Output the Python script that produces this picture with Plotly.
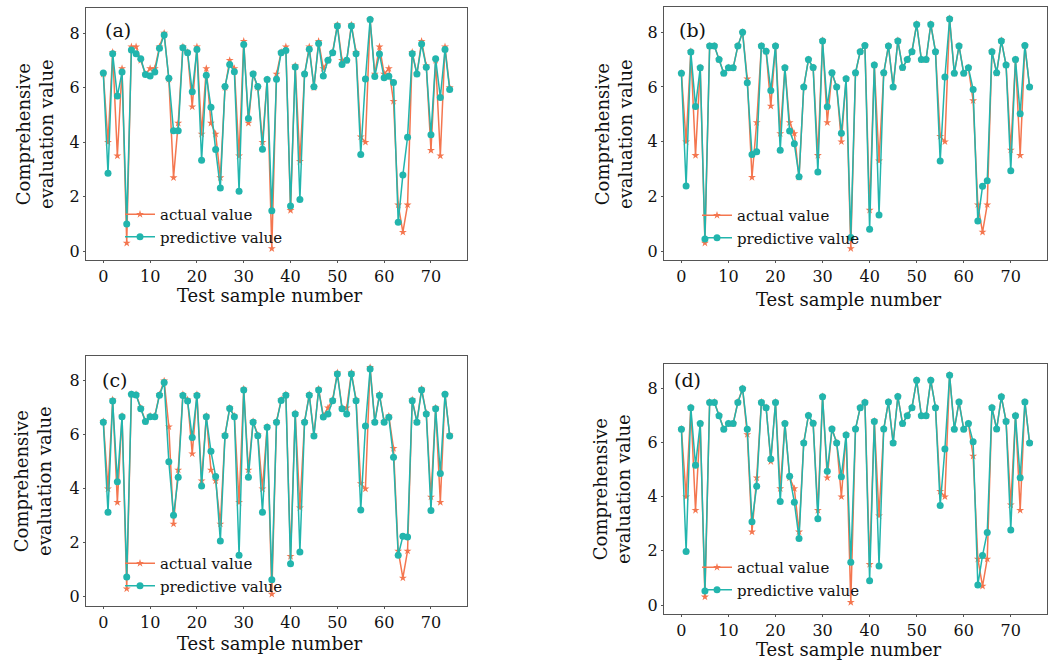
import plotly.graph_objects as go

sample = list(range(75))

actual = [6.5, 4.0, 7.3, 3.5, 6.7, 0.3, 7.5, 7.5, 7.0, 6.5,
          6.7, 6.7, 7.5, 8.0, 6.3, 2.7, 4.7, 7.5, 7.3, 5.3,
          7.5, 4.3, 6.7, 4.7, 4.3, 2.7, 6.0, 7.0, 6.7, 3.5,
          7.7, 4.7, 6.5, 6.0, 4.0, 6.3, 0.1, 6.5, 7.3, 7.5,
          1.5, 6.8, 3.3, 6.5, 7.5, 6.0, 7.7, 6.7, 7.0, 7.3,
          8.3, 7.0, 7.0, 8.3, 7.3, 4.2, 4.0, 8.5, 6.5, 7.5,
          6.5, 6.7, 5.5, 1.7, 0.7, 1.7, 7.3, 6.5, 7.7, 6.8,
          3.7, 7.0, 3.5, 7.5, 6.0]

pred_a = [6.54, 2.86, 7.24, 5.69, 6.57, 1.0, 7.38, 7.24, 7.06, 6.48,
          6.43, 6.57, 7.44, 7.93, 6.34, 4.42, 4.42, 7.46, 7.28, 5.85,
          7.4, 3.34, 6.45, 5.28, 3.73, 2.32, 6.04, 6.85, 6.58, 2.2,
          7.58, 4.87, 6.5, 6.04, 3.74, 6.3, 1.49, 6.31, 7.28, 7.36,
          1.66, 6.76, 1.9, 6.5, 7.41, 6.03, 7.62, 6.43, 7.0, 7.28,
          8.26, 6.85, 7.0, 8.26, 7.24, 3.55, 6.32, 8.5, 6.41, 7.23,
          6.36, 6.42, 6.19, 1.06, 2.8, 4.18, 7.24, 6.5, 7.6, 6.75,
          4.27, 7.06, 5.64, 7.4, 5.93]

pred_b = [6.5, 2.38, 7.28, 5.29, 6.7, 0.45, 7.5, 7.5, 7.0, 6.5,
          6.7, 6.7, 7.5, 8.0, 6.15, 3.53, 3.63, 7.5, 7.3, 5.87,
          7.5, 3.69, 6.7, 4.39, 3.93, 2.72, 6.0, 7.0, 6.71, 2.89,
          7.68, 5.28, 6.52, 6.0, 4.31, 6.3, 0.5, 6.52, 7.29, 7.51,
          0.8, 6.8, 1.32, 6.52, 7.5, 6.0, 7.68, 6.71, 7.0, 7.29,
          8.28, 7.0, 7.0, 8.28, 7.29, 3.3, 6.36, 8.48, 6.5, 7.5,
          6.5, 6.7, 5.91, 1.1, 2.37, 2.57, 7.29, 6.52, 7.68, 6.8,
          2.94, 7.0, 5.02, 7.51, 6.0]

pred_c = [6.47, 3.13, 7.25, 4.26, 6.67, 0.74, 7.5, 7.48, 6.97, 6.49,
          6.67, 6.67, 7.47, 7.94, 5.0, 3.02, 4.43, 7.46, 7.25, 5.9,
          7.46, 4.11, 6.67, 5.39, 4.46, 2.07, 5.97, 6.98, 6.67, 1.54,
          7.66, 4.43, 6.47, 5.97, 3.13, 6.28, 0.63, 6.47, 7.27, 7.47,
          1.23, 6.77, 1.66, 6.47, 7.47, 5.96, 7.66, 6.66, 6.77, 7.26,
          8.25, 6.97, 6.77, 8.25, 7.26, 3.22, 6.33, 8.44, 6.47, 7.46,
          6.47, 6.65, 5.17, 1.54, 2.24, 2.22, 7.26, 6.47, 7.66, 6.77,
          3.2, 6.97, 4.57, 7.5, 5.96]

pred_d = [6.49, 1.98, 7.29, 5.16, 6.7, 0.52, 7.48, 7.48, 6.99, 6.49,
          6.7, 6.7, 7.48, 7.99, 6.49, 3.08, 4.39, 7.48, 7.29, 5.39,
          7.48, 3.82, 6.7, 4.76, 3.8, 2.46, 5.98, 7.0, 6.71, 3.19,
          7.69, 4.94, 6.5, 5.98, 4.74, 6.28, 1.58, 6.5, 7.29, 7.48,
          0.9, 6.78, 1.44, 6.5, 7.5, 5.98, 7.7, 6.7, 6.99, 7.29,
          8.3, 6.99, 6.99, 8.3, 7.29, 3.68, 5.76, 8.49, 6.49, 7.5,
          6.49, 6.7, 6.03, 0.74, 1.83, 2.68, 7.29, 6.5, 7.69, 6.78,
          2.77, 6.99, 4.7, 7.5, 5.98]

panel_labels = ["(a)", "(b)", "(c)", "(d)"]
preds = [pred_a, pred_b, pred_c, pred_d]
x_tick_vals = [0, 10, 20, 30, 40, 50, 60, 70]
y_tick_vals = [0, 2, 4, 6, 8]

W, H = 1049, 661
FONT = "DejaVu Serif"
C_ACT = "#F4764F"
C_PRED = "#22B5AD"

# pixel boxes (left, right, top, bottom)
boxes = [(86, 467, 8, 260), (664, 1047, 7, 260),
         (86, 467, 356, 605.5), (664, 1047, 363.5, 613.7)]
legend_pos = [(120, 198), (697, 199), (120, 547), (697, 551)]
label_pos = [(103, 30), (677, 30), (100, 380), (672, 380)]
xtitle_pos = [(270, 296), (849, 299), (270, 643), (849, 649)]
ytitle_pos = [(35, 134), (614, 134), (33, 481), (612, 489)]

fig = go.Figure()
layout = dict(width=W, height=H, margin=dict(l=0, r=0, t=0, b=0, autoexpand=False),
              plot_bgcolor="white", paper_bgcolor="white",
              font=dict(family=FONT, color="#111", size=16),
              showlegend=True, annotations=[])

for k in range(4):
    sfx = "" if k == 0 else str(k + 1)
    lg = "legend" if k == 0 else "legend" + str(k + 1)
    xa, ya = "x" + sfx, "y" + sfx
    fig.add_trace(go.Scatter(x=sample, y=actual, mode="lines+markers", name="actual value",
                             line=dict(color=C_ACT, width=1.5),
                             marker=dict(symbol="star", size=6, color=C_ACT),
                             xaxis=xa, yaxis=ya, legend=lg))
    fig.add_trace(go.Scatter(x=sample, y=preds[k], mode="lines+markers", name="predictive value",
                             line=dict(color=C_PRED, width=1.5),
                             marker=dict(symbol="circle", size=7, color=C_PRED),
                             xaxis=xa, yaxis=ya, legend=lg))
    l, r, t, b = boxes[k]
    ax_common = dict(showline=True, mirror=True, linecolor="#555", linewidth=1,
                     showgrid=False, zeroline=False, ticks="outside", ticklen=2,
                     tickcolor="#555", automargin=False,
                     tickfont=dict(family=FONT, size=16, color="#111"))
    layout["xaxis" + sfx] = dict(domain=[l / W, r / W], range=[-3.7, 77.7],
                                 tickvals=x_tick_vals, anchor=ya, **ax_common)
    layout["yaxis" + sfx] = dict(domain=[1 - b / H, 1 - t / H], range=[-0.32, 8.92],
                                 tickvals=y_tick_vals, anchor=xa, **ax_common)
    lx, ly = legend_pos[k]
    layout[lg] = dict(x=lx / W, y=1 - ly / H, xanchor="left", yanchor="top",
                      bgcolor="rgba(0,0,0,0)", font=dict(family=FONT, size=15, color="#111"),
                      itemwidth=30, tracegroupgap=0)
    px_, py_ = label_pos[k]
    layout["annotations"].append(dict(text=panel_labels[k], x=px_ / W, y=1 - py_ / H,
                                      xref="paper", yref="paper", xanchor="left", yanchor="middle",
                                      showarrow=False, font=dict(family=FONT, size=19, color="#111")))
    tx, ty = xtitle_pos[k]
    layout["annotations"].append(dict(text="Test sample number", x=tx / W, y=1 - ty / H,
                                      xref="paper", yref="paper", xanchor="center", yanchor="middle",
                                      showarrow=False, font=dict(family=FONT, size=18, color="#111")))
    yx, yy = ytitle_pos[k]
    layout["annotations"].append(dict(text="Comprehensive<br>evaluation value", x=yx / W, y=1 - yy / H,
                                      xref="paper", yref="paper", xanchor="center", yanchor="middle",
                                      textangle=-90, showarrow=False,
                                      font=dict(family=FONT, size=18, color="#111")))

fig.update_layout(**layout)
fig.write_html("out.html", config={"displayModeBar": False},
               post_script="document.body.style.margin='0';document.body.style.overflow='hidden';")
